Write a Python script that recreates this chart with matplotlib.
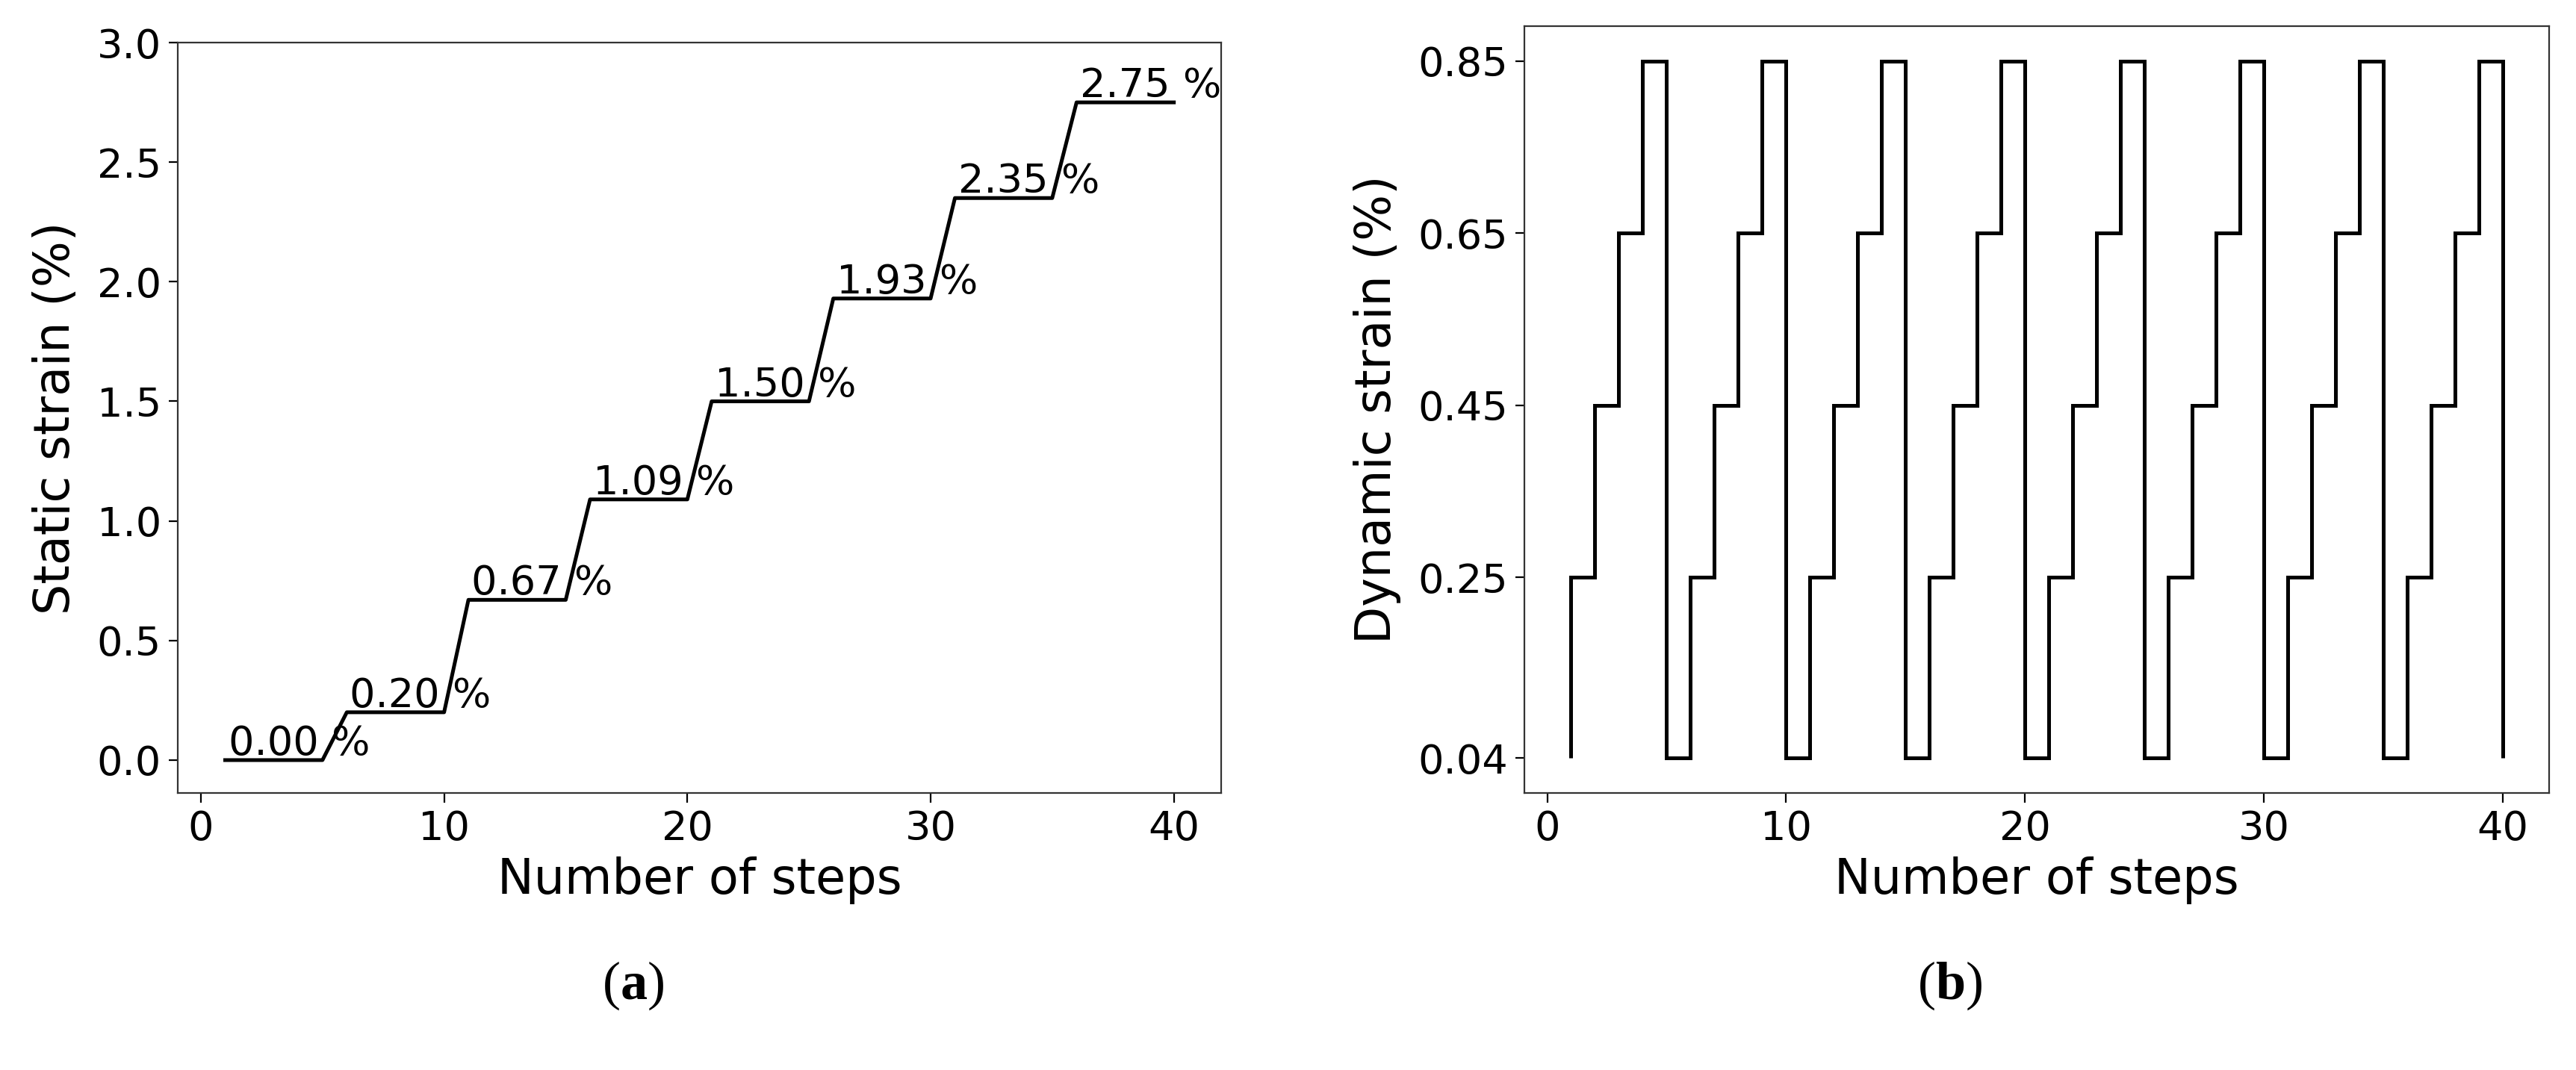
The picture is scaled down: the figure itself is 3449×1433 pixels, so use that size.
import matplotlib
matplotlib.use("Agg")
import matplotlib.pyplot as plt

# static strain levels (a): 5 steps per level
steps = list(range(1, 41))
static_strain = [0.00] * 5 + [0.20] * 5 + [0.67] * 5 + [1.09] * 5 + \
                [1.50] * 5 + [1.93] * 5 + [2.35] * 5 + [2.75] * 5
label_steps = [1, 6, 11, 16, 21, 26, 31, 36]
label_values = [0.00, 0.20, 0.67, 1.09, 1.50, 1.93, 2.35, 2.75]

# dynamic strain (b): value held on each interval [k, k+1], k = 1..39
dyn_edges = list(range(1, 41))
dyn_values = [0.25, 0.45, 0.65, 0.85, 0.04,
              0.25, 0.45, 0.65, 0.85, 0.04,
              0.25, 0.45, 0.65, 0.85, 0.04,
              0.25, 0.45, 0.65, 0.85, 0.04,
              0.25, 0.45, 0.65, 0.85, 0.04,
              0.25, 0.45, 0.65, 0.85, 0.04,
              0.25, 0.45, 0.65, 0.85, 0.04,
              0.25, 0.45, 0.65, 0.85]
dyn_base = 0.04
dyn_ticks = [0.04, 0.25, 0.45, 0.65, 0.85]

plt.rcParams['mathtext.fontset'] = 'custom'
plt.rcParams['mathtext.rm'] = 'Liberation Serif'
plt.rcParams['mathtext.bf'] = 'Liberation Serif:bold'

fig = plt.figure(figsize=(17.245, 7.165), dpi=200)
ax1 = fig.add_axes([0.0690, 0.2589, 0.4051, 0.7013])
ax2 = fig.add_axes([0.5918, 0.2589, 0.3978, 0.7167])

tick_fs = 19.5
label_fs = 23.5

# (a) static strain
ax1.plot(steps, static_strain, color='black', lw=1.8)
for x, v in zip(label_steps, label_values):
    ax1.annotate(f'{v:.2f} %', (x, v), xytext=(1.5, 2.5),
                 textcoords='offset points', fontsize=tick_fs,
                 ha='left', va='baseline')
ax1.set_ylim(top=3.0)
ax1.set_xticks([0, 10, 20, 30, 40])
ax1.set_xlabel('Number of steps', fontsize=label_fs, labelpad=4)
ax1.set_ylabel('Static strain (%)', fontsize=label_fs, labelpad=8)
ax1.tick_params(labelsize=tick_fs, length=4.5)

# (b) dynamic strain
st = ax2.stairs(dyn_values, dyn_edges, baseline=dyn_base,
                color='black', lw=1.8)
st.sticky_edges.y.clear()
ax2.autoscale_view()
ax2.set_yticks(dyn_ticks)
ax2.set_yticklabels([f'{t:.2f}' for t in dyn_ticks])
ax2.set_xticks([0, 10, 20, 30, 40])
ax2.set_xlabel('Number of steps', fontsize=label_fs, labelpad=4)
ax2.set_ylabel('Dynamic strain (%)', fontsize=label_fs, labelpad=8)
ax2.tick_params(labelsize=tick_fs, length=4.5)

for ax in (ax1, ax2):
    for sp in ax.spines.values():
        sp.set_color('#333333')

# subfigure captions
fig.text(0.2456, 0.079, r'($\mathbf{a}$)', fontsize=26,
         family='Liberation Serif', ha='center', va='center')
fig.text(0.7570, 0.079, r'($\mathbf{b}$)', fontsize=26,
         family='Liberation Serif', ha='center', va='center')

fig.savefig('out.png', dpi=200)
